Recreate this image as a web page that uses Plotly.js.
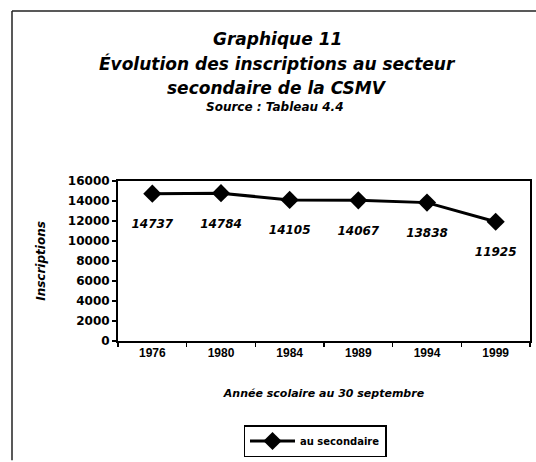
<!DOCTYPE html>
<html>
<head>
<meta charset="utf-8">
<script src="https://cdn.plot.ly/plotly-3.0.1.min.js"></script>
<style>html,body{margin:0;padding:0;background:#fff;}#chart{width:536px;height:462px;}</style>
</head>
<body>
<div id="chart"></div>
<script>
var years = ["1976", "1980", "1984", "1989", "1994", "1999"];
var inscriptions = [14737, 14784, 14105, 14067, 13838, 11925];
var seriesName = "au secondaire";
var yTicks = [0, 2000, 4000, 6000, 8000, 10000, 12000, 14000, 16000];
var titleLines = ["Graphique 11", "Évolution des inscriptions au secteur", "secondaire de la CSMV"];
var sourceText = "Source : Tableau 4.4";

var D = "DejaVu Sans, sans-serif";
var F = "Liberation Sans, Arial, sans-serif";

var trace = {
  x: years,
  y: inscriptions,
  type: "scatter",
  mode: "lines+markers+text",
  name: seriesName,
  line: {color: "#000", width: 3},
  marker: {symbol: "diamond", size: 14, color: "#000"},
  text: inscriptions.map(function(v){ return "<br>" + String(v); }),
  textposition: "bottom center",
  textfont: {family: D, size: 12, color: "#000", weight: "bold", style: "italic"},
  cliponaxis: false
};

var L = 118, R = 6, T = 181, B = 120, W = 536, H = 462;
var pw = W - L - R, ph = H - T - B;
function px(x){ return (x - L) / pw; }
function py(y){ return (H - B - y) / ph; }

var titleY = [38, 63, 87];
var annotations = titleLines.map(function(t, i){
  return {text: t, xref: "paper", yref: "paper", x: px(277), y: py(titleY[i]), xanchor: "center", yanchor: "middle", showarrow: false,
          font: {family: D, size: 17, color: "#000", weight: "bold", style: "italic"}};
});
annotations.push({text: sourceText, xref: "paper", yref: "paper", x: px(275), y: py(107), xanchor: "center", yanchor: "middle", showarrow: false,
     font: {family: D, size: 12, color: "#000", weight: "bold", style: "italic"}});

var layout = {
  width: W, height: H,
  margin: {l: L, r: R, t: T, b: B},
  paper_bgcolor: "#fff", plot_bgcolor: "#fff",
  showlegend: true,
  annotations: annotations,
  xaxis: {
    type: "category",
    range: [-0.5, 5.5],
    showline: true, linecolor: "#000", linewidth: 2, mirror: true,
    ticks: "outside", tickson: "boundaries", ticklen: 4, tickcolor: "#000", tickwidth: 1.5,
    showgrid: false, zeroline: false,
    tickfont: {family: F, size: 12, color: "#000", weight: "bold"},
    title: {text: "Année scolaire au 30 septembre", font: {family: D, size: 11, color: "#000", weight: "bold", style: "italic"}, standoff: 30}
  },
  yaxis: {
    range: [0, 16000],
    tickvals: yTicks,
    tickformat: "d",
    showline: true, linecolor: "#000", linewidth: 2, mirror: true,
    ticks: "outside", ticklen: 4, tickcolor: "#000", tickwidth: 1.5,
    showgrid: false, zeroline: false,
    tickfont: {family: D, size: 12, color: "#000", weight: "bold"},
    title: {text: "Inscriptions", font: {family: D, size: 12, color: "#000", weight: "bold", style: "italic"}, standoff: 20}
  },
  legend: {
    x: px(315), y: py(441), xanchor: "center", yanchor: "middle",
    bordercolor: "#000", borderwidth: 1.5, bgcolor: "#fff",
    itemwidth: 45,
    font: {family: D, size: 10, color: "#000", weight: "bold"}
  },
  shapes: [
    {type: "line", xref: "paper", yref: "paper", x0: px(12), x1: px(12), y0: py(10), y1: py(462), line: {color: "#222", width: 1.5}},
    {type: "line", xref: "paper", yref: "paper", x0: px(12), x1: px(536), y0: py(10), y1: py(10), line: {color: "#222", width: 1.5}}
  ]
};

Plotly.newPlot("chart", [trace], layout, {displayModeBar: false, staticPlot: true});
</script>
</body>
</html>
